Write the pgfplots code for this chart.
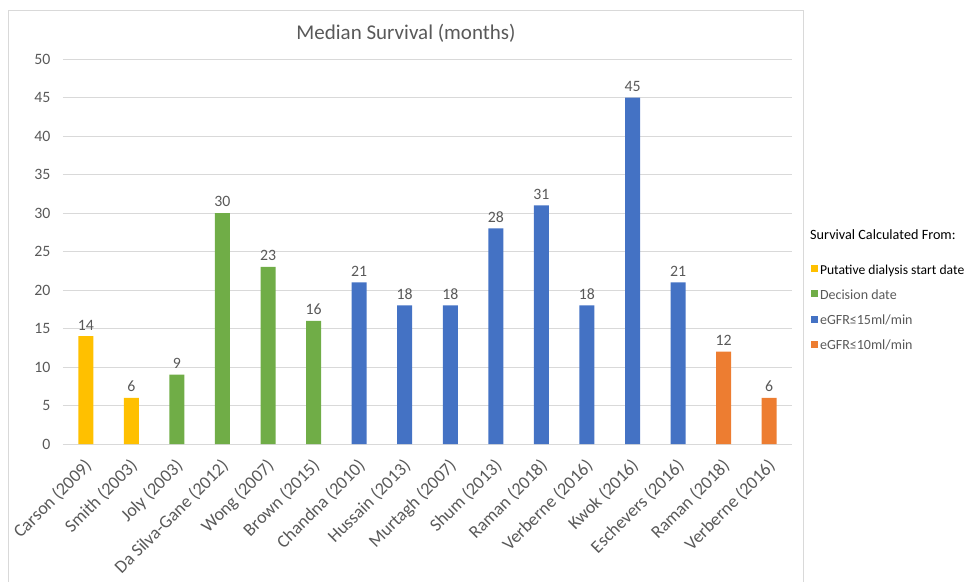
\documentclass[border=0pt]{standalone}
\usepackage{pgfplots}
\pgfplotsset{compat=1.18}
\usepackage{fontspec}
\setmainfont{Carlito}
\definecolor{cyel}{HTML}{FFC000}
\definecolor{cgrn}{HTML}{70AD47}
\definecolor{cblu}{HTML}{4472C4}
\definecolor{corg}{HTML}{ED7D31}
\definecolor{gridgray}{HTML}{D9D9D9}
\definecolor{labelgray}{HTML}{595959}
\begin{document}
\begin{tikzpicture}[x=1pt,y=1pt]
\useasboundingbox (0,0) rectangle (969,581);
\draw[gridgray, line width=1pt] (8.5,-5) rectangle (803,570.5);
\node[font=\fontsize{21}{24}\selectfont, text=labelgray] at (406,548) {Median Survival (months)};
\node[font=\fontsize{14.2}{16}\selectfont, text=black, anchor=west, inner sep=0pt] at (810,346) {Survival Calculated From:};
\begin{axis}[
  at={(63pt,137pt)}, anchor=south west, scale only axis,
  width=729pt, height=385pt,
  ybar, bar width=15pt, bar shift=0pt,
  xmin=-0.5, xmax=15.5, ymin=0, ymax=50,
  xtick={0,...,15},
  xticklabels={Carson (2009),Smith (2003),Joly (2003),Da Silva-Gane (2012),Wong (2007),Brown (2015),Chandna (2010),Hussain (2013),Murtagh (2007),Shum (2013),Raman (2018),Verberne (2016),Kwok (2016),Eschevers (2016),Raman (2018),Verberne (2016)},
  x tick label style={xshift=-2.5pt, yshift=-12pt, rotate=45, anchor=north east, font=\fontsize{18}{20}\selectfont, text=labelgray, inner sep=1pt},
  ytick={0,5,...,50},
  y tick label style={font=\fontsize{15.8}{18}\selectfont, text=labelgray, xshift=-9pt},
  /pgf/number format/assume math mode=true,
  ymajorgrids, grid style={gridgray, line width=1pt},
  axis line style={draw=none}, major tick length=0pt,
  nodes near coords,
  every node near coord/.append style={font=\fontsize{15.8}{18}\selectfont, text=labelgray, yshift=2.5pt},
  legend style={at={(1.0254,0.474)}, anchor=north west, draw=none, fill=none,
    inner sep=0pt, outer sep=0pt,
    font=\fontsize{14}{16}\selectfont, text=labelgray, row sep=7.3pt,
    nodes={inner sep=2.5pt, text height=10pt, text depth=3pt}},
  legend cell align=left,
]
\addplot[fill=cyel, draw=none, legend image code/.code={\fill[cyel] (0pt,-1.5pt) rectangle (7pt,5.5pt);}] coordinates {(0,14) (1,6)};
\addlegendentry{\textcolor{black}{\fontsize{13.6}{16}\selectfont Putative dialysis start date}}
\addplot[fill=cgrn, draw=none, legend image code/.code={\fill[cgrn] (0pt,-1.5pt) rectangle (7pt,5.5pt);}] coordinates {(2,9) (3,30) (4,23) (5,16)};
\addlegendentry{Decision date}
\addplot[fill=cblu, draw=none, legend image code/.code={\fill[cblu] (0pt,-1.5pt) rectangle (7pt,5.5pt);}] coordinates {(6,21) (7,18) (8,18) (9,28) (10,31) (11,18) (12,45) (13,21)};
\addlegendentry{eGFR≤15ml/min}
\addplot[fill=corg, draw=none, legend image code/.code={\fill[corg] (0pt,-1.5pt) rectangle (7pt,5.5pt);}] coordinates {(14,12) (15,6)};
\addlegendentry{eGFR≤10ml/min}
\end{axis}
\end{tikzpicture}
\end{document}
